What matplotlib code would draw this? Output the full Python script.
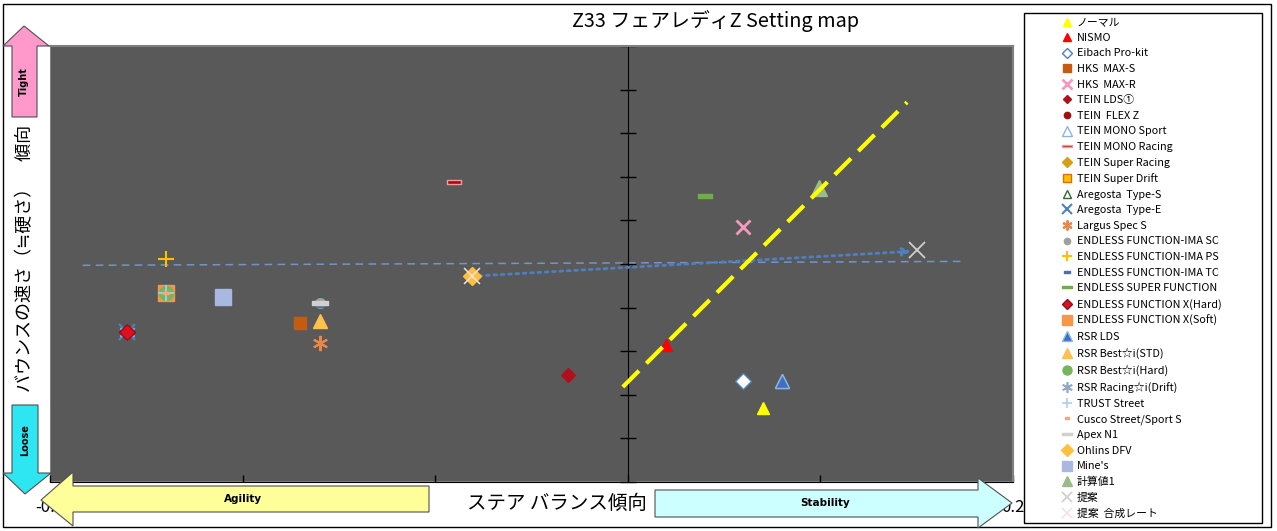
import matplotlib
matplotlib.use('Agg')
import matplotlib.pyplot as plt
from matplotlib.patches import Polygon, Rectangle
from matplotlib.path import Path

plt.rcParams['font.family'] = ['Noto Sans CJK JP', 'DejaVu Sans']

# series names (legend order)
names = ['ノーマル', 'NISMO', 'Eibach Pro-kit', 'HKS  MAX-S', 'HKS  MAX-R',
         'TEIN LDS①', 'TEIN  FLEX Z', 'TEIN MONO Sport', 'TEIN MONO Racing',
         'TEIN Super Racing', 'TEIN Super Drift', 'Aregosta  Type-S',
         'Aregosta  Type-E', 'Largus Spec S', 'ENDLESS FUNCTION-IMA SC',
         'ENDLESS FUNCTION-IMA PS', 'ENDLESS FUNCTION-IMA TC',
         'ENDLESS SUPER FUNCTION', 'ENDLESS FUNCTION X(Hard)',
         'ENDLESS FUNCTION X(Soft)', 'RSR LDS', 'RSR Best☆i(STD)',
         'RSR Best☆i(Hard)', 'RSR Racing☆i(Drift)', 'TRUST Street',
         'Cusco Street/Sport S', 'Apex N1', 'Ohlins DFV', "Mine's", '計算値1',
         '提案', '提案  合成レート']

# steer balance (x) and bounce speed (y)
steer = [0.070, 0.020, 0.060, -0.170, 0.060,
         -0.031, -0.260, 0.080, -0.090,
         -0.081, -0.240, -0.160,
         -0.260, -0.160, -0.160,
         -0.240, -0.160,
         0.040, -0.260,
         -0.240, 0.080, -0.160,
         -0.240, -0.260, -0.240,
         -0.240, -0.160, -0.081, -0.210, 0.0995,
         0.150, -0.081]
bounce = [1.70, 3.14, 2.31, 3.64, 5.86,
          2.45, 3.44, 2.31, 6.87,
          4.72, 4.33, 4.15,
          3.44, 3.18, 4.10,
          5.11, 4.03,
          6.55, 3.44,
          4.33, 2.31, 3.69,
          4.33, 3.44, 4.33,
          4.33, 4.10, 4.72, 4.24, 6.74,
          5.31, 4.72]

# trend line ends and yellow guide line
trend_x = [-0.283, 0.175]
trend_y = [4.97, 5.06]
guide_x = [-0.0026, 0.145]
guide_y = [2.18, 8.71]

x_ticks = [-0.3, -0.2, -0.1, 0.0, 0.1, 0.2]
x_tick_labels = ['-0.3', '-0.2', '', '', '', '0.2']
y_ticks = list(range(0, 11))

dash = Path([(-1, -0.3), (1, -0.3), (1, 0.3), (-1, 0.3), (-1, -0.3)],
            [Path.MOVETO, Path.LINETO, Path.LINETO, Path.LINETO, Path.CLOSEPOLY])

# marker, face, edge, size, edge width
styles = {
    'ノーマル': ('^', '#FFFF00', '#FFFF00', 9, 1),
    'NISMO': ('^', '#FF0000', '#FF0000', 9, 1),
    'Eibach Pro-kit': ('D', 'white', '#4F81BD', 8, 1),
    'HKS  MAX-S': ('s', '#C55A11', '#C55A11', 8, 1),
    'HKS  MAX-R': ('x', '#F49AC1', '#F49AC1', 10, 2),
    'TEIN LDS①': ('D', '#B0101E', '#B0101E', 7, 1),
    'TEIN  FLEX Z': ('o', '#A01010', '#A01010', 7, 1),
    'TEIN MONO Sport': ('^', 'none', '#8DB4E2', 10, 1),
    'TEIN MONO Racing': (dash, '#C00000', '#E6A0A0', 10, 1),
    'TEIN Super Racing': ('D', '#D4A017', '#D4A017', 8, 1),
    'TEIN Super Drift': ('s', '#FFC000', '#E46C0A', 9, 1),
    'Aregosta  Type-S': ('^', 'none', '#2E6B30', 8, 1),
    'Aregosta  Type-E': ('x', '#4F81BD', '#4F81BD', 11, 1.5),
    'Largus Spec S': ((6, 2, 0), '#E8884A', '#E8884A', 11, 1.5),
    'ENDLESS FUNCTION-IMA SC': ('o', '#A0A0A0', '#A0A0A0', 7, 1),
    'ENDLESS FUNCTION-IMA PS': ('+', '#FFC000', '#FFC000', 12, 1.5),
    'ENDLESS FUNCTION-IMA TC': (dash, '#4F6FA0', '#4F6FA0', 6, 1),
    'ENDLESS SUPER FUNCTION': (dash, '#70AD47', '#70AD47', 10, 1),
    'ENDLESS FUNCTION X(Hard)': ('D', '#E0101E', '#8A1020', 8, 1),
    'ENDLESS FUNCTION X(Soft)': ('s', '#F79646', '#F79646', 11, 1),
    'RSR LDS': ('^', '#3F6FC0', '#8DB4E2', 10, 1),
    'RSR Best☆i(STD)': ('^', '#FFC04D', '#FFC04D', 10, 1),
    'RSR Best☆i(Hard)': ('o', '#77B55A', '#77B55A', 10, 1),
    'RSR Racing☆i(Drift)': ((6, 2, 0), '#8FA8C8', '#8FA8C8', 12, 1.2),
    'TRUST Street': ('+', '#A9D0F0', '#A9D0F0', 11, 1.2),
    'Cusco Street/Sport S': (dash, '#F4A582', '#F4A582', 5, 1),
    'Apex N1': (dash, '#D0D0D0', '#D0D0D0', 11, 1),
    'Ohlins DFV': ('D', '#FFC040', '#FFC040', 9, 1),
    "Mine's": ('s', '#A9B8E0', '#A9B8E0', 11, 1),
    '計算値1': ('^', '#9BBB8A', '#9BBB8A', 11, 1),
    '提案': ('x', '#D0D0D0', '#D0D0D0', 12, 1.3),
    '提案  合成レート': ('x', '#F6E0E0', '#F6E0E0', 11, 1.1),
}
# series that sit under the others at the same spot
low = ['Aregosta  Type-E', 'RSR Racing☆i(Drift)']

W, H = 1277, 531
fig = plt.figure(figsize=(W / 100, H / 100), dpi=100)
fig.patch.set_facecolor('white')


def fx(px):
    return px / W


def fy(py):
    return 1 - py / H


ax = fig.add_axes([fx(50), fy(482), fx(1013) - fx(50), fy(46) - fy(482)])
ax.set_facecolor('#595959')
ax.set_xlim(-0.3, 0.2)
ax.set_ylim(0, 10)

ax.plot(trend_x, trend_y, color='#7096C8', lw=1.1, dashes=(5, 3.5), zorder=2)
ax.plot(guide_x, guide_y, color='#FFFF00', lw=3, dashes=(5.5, 2.5), zorder=6)
ax.annotate('', xy=(steer[30] - 0.003, bounce[30] - 0.02), xytext=(steer[31], bounce[31]),
            arrowprops=dict(arrowstyle='-|>', color='#4F7FBF', lw=2, ls=':',
                            mutation_scale=12, shrinkA=0, shrinkB=0), zorder=3)

for i, n in enumerate(names):
    m, fc, ec, ms, mew = styles[n]
    z = 3.5 if n in low else 4
    ax.plot([steer[i]], [bounce[i]], ls='none', marker=m, mfc=fc, mec=ec, ms=ms,
            mew=mew, label=n, zorder=z)

# axes look
for s in ['top', 'right']:
    ax.spines[s].set_color('#808080')
    ax.spines[s].set_linewidth(1.5)
ax.spines['bottom'].set_color('black')
ax.spines['left'].set_position(('data', 0))
ax.spines['left'].set_color('black')
ax.add_patch(Rectangle((0, 0), 1, 1, transform=ax.transAxes, fill=False,
                       ec='#808080', lw=1.5, zorder=1))
ax.set_xticks(x_ticks)
ax.set_xticklabels(x_tick_labels, fontsize=12)
ax.set_yticks(y_ticks)
ax.tick_params(axis='x', direction='in', length=5, width=1, pad=12)
ax.tick_params(axis='y', direction='inout', length=11, width=1, labelleft=False)

leg = ax.legend(loc='upper left', bbox_to_anchor=(fx(1024), fy(521), fx(1262) - fx(1024), fy(13) - fy(521)),
                bbox_transform=fig.transFigure, mode='expand', borderaxespad=0,
                fontsize=7.8, labelspacing=0.515, handlelength=7.2, handletextpad=-2.75,
                borderpad=0.4, markerscale=0.65, fancybox=False, framealpha=1,
                edgecolor='black', numpoints=1)
leg.get_frame().set_linewidth(1)

fig.text(fx(715), fy(21), 'Z33 フェアレディZ Setting map', ha='center', va='center', fontsize=14.3)
fig.text(fx(557), fy(503), 'ステア バランス傾向', ha='center', va='center', fontsize=14)
fig.text(fx(25), fy(258), 'バウンスの速さ（≒硬さ）　傾向', ha='center', va='center',
         rotation=90, fontsize=13)

# outer chart border
fig.patches.append(Rectangle((fx(3), fy(527)), fx(1271) - fx(3), fy(4) - fy(527),
                             transform=fig.transFigure, fill=False, ec='black', lw=1))


def arrow(pts, color):
    fig.patches.append(Polygon([(fx(a), fy(b)) for a, b in pts], closed=True,
                               transform=fig.transFigure, fc=color, ec='#505050',
                               lw=0.8, zorder=5))


arrow([(12, 117), (37, 117), (37, 46), (49, 46), (24, 26), (3, 46), (12, 46)], '#FF99CC')
arrow([(12, 405), (38, 405), (38, 473), (51, 473), (25, 494), (3, 473), (12, 473)], '#2EE6F2')
arrow([(429, 486), (429, 512), (73, 512), (73, 526), (41, 500), (73, 472), (73, 486)], '#FFFF99')
arrow([(655, 490), (978, 490), (978, 478), (1012, 503), (978, 528), (978, 517), (655, 517)], '#CCFFFF')

fig.text(fx(24), fy(82), 'Tight', rotation=90, ha='center', va='center', fontsize=7,
         fontweight='bold', family='DejaVu Sans', zorder=6)
fig.text(fx(25), fy(440), 'Loose', rotation=90, ha='center', va='center', fontsize=7,
         fontweight='bold', family='DejaVu Sans', zorder=6)
fig.text(fx(243), fy(499), 'Agility', ha='center', va='center', fontsize=7.5,
         fontweight='bold', family='DejaVu Sans', zorder=6)
fig.text(fx(825), fy(503), 'Stability', ha='center', va='center', fontsize=7.5,
         fontweight='bold', family='DejaVu Sans', zorder=6)

fig.savefig('out.png', dpi=100)
